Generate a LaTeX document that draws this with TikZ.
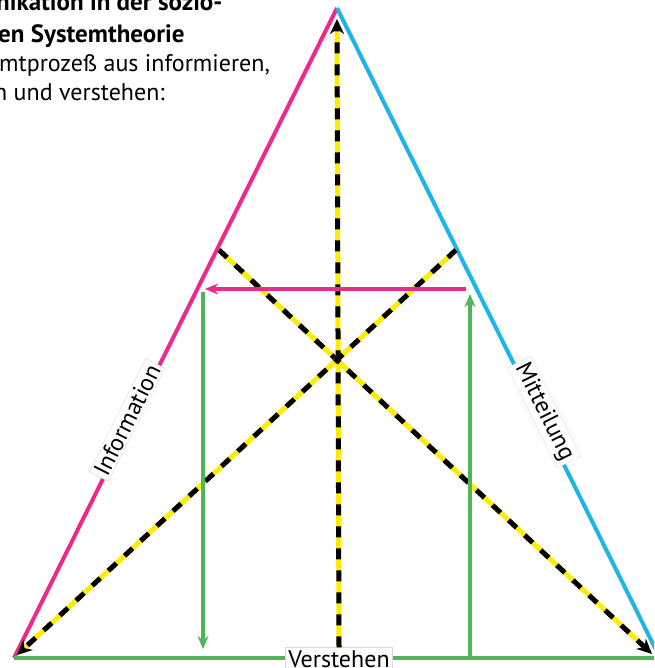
\documentclass[tikz,border=0pt]{standalone}
\usepackage{fontspec}
\setmainfont{PT Sans}
\usetikzlibrary{arrows.meta}
\definecolor{mag}{RGB}{236,42,140}
\definecolor{cyanb}{RGB}{30,180,232}
\definecolor{grn}{RGB}{80,180,90}
\definecolor{ylw}{RGB}{255,236,0}
\tikzset{
  edge/.style={line width=4pt},
  yellowbase/.style={draw=ylw, line width=5pt, shorten >=5pt},
  blackdash/.style={draw=black, line width=5pt, dash pattern=on 11pt off 11pt, -{Stealth[length=15pt,width=14pt]}},
  colarrow/.style={line width=3.5pt, -{Stealth[length=13pt,width=11pt]}},
  lbl/.style={fill=white, draw=black!15, line width=0.4pt, font=\fontsize{24}{27}\selectfont, inner xsep=3pt, inner ysep=2pt},
  head/.style={font=\fontsize{25}{28}\selectfont\bfseries, anchor=base west, inner sep=0pt},
  body/.style={font=\fontsize{24}{28}\selectfont, anchor=base west, inner sep=0pt}
}
\begin{document}
\begin{tikzpicture}[x=1pt,y=-1pt]
\useasboundingbox (0,0) rectangle (654,668);
\clip (0,0) rectangle (654,668);
% corners
\coordinate (A) at (337,8);
\coordinate (L) at (14,658);
\coordinate (R) at (660,658);
% text
\node[head] (t1) at (-4,11) {nikation in der sozio-};
\node[head] (t2) at (-2,43) {en Systemtheorie};
\node[body] (t3) at (-1,72) {mtprozeß aus informieren,};
\node[body] (t4) at (-6,101) {n und verstehen:};
% triangle
\draw[edge, mag] (L) -- (A);
\draw[edge, cyanb] (A) -- (R);
\draw[edge, grn] (L) -- (R);
% coordinates of the dashed lines
\coordinate (d1s) at (219,250);
\coordinate (d1e) at (652,654);
\coordinate (d2s) at (456,250);
\coordinate (d2e) at (17,655);
\coordinate (vt) at (337,19);
% labels
\node[lbl, rotate=63.5] (info) at (127,420) {Information};
\node[lbl, rotate=-63.5] (mitt) at (544,412) {Mitteilung};
\node[lbl, inner ysep=3pt] (verst) at (339,659) {Verstehen};
% dashed arrows
\draw[yellowbase] (verst.north) -- (vt);
\draw[blackdash] (verst.north) -- (vt);
\draw[yellowbase] (d1s) -- (d1e);
\draw[blackdash] (d1s) -- (d1e);
\draw[yellowbase] (d2s) -- (d2e);
\draw[blackdash] (d2s) -- (d2e);
% colored arrows
\coordinate (ms) at (466,289);
\coordinate (me) at (205,289);
\draw[colarrow, mag] (ms) -- (me);
\coordinate (gls) at (203,292);
\coordinate (gle) at (203,649);
\draw[colarrow, grn] (gls) -- (gle);
\coordinate (grs) at (470,658);
\coordinate (gre) at (470,294);
\draw[colarrow, grn] (grs) -- (gre);
\end{tikzpicture}
\end{document}
